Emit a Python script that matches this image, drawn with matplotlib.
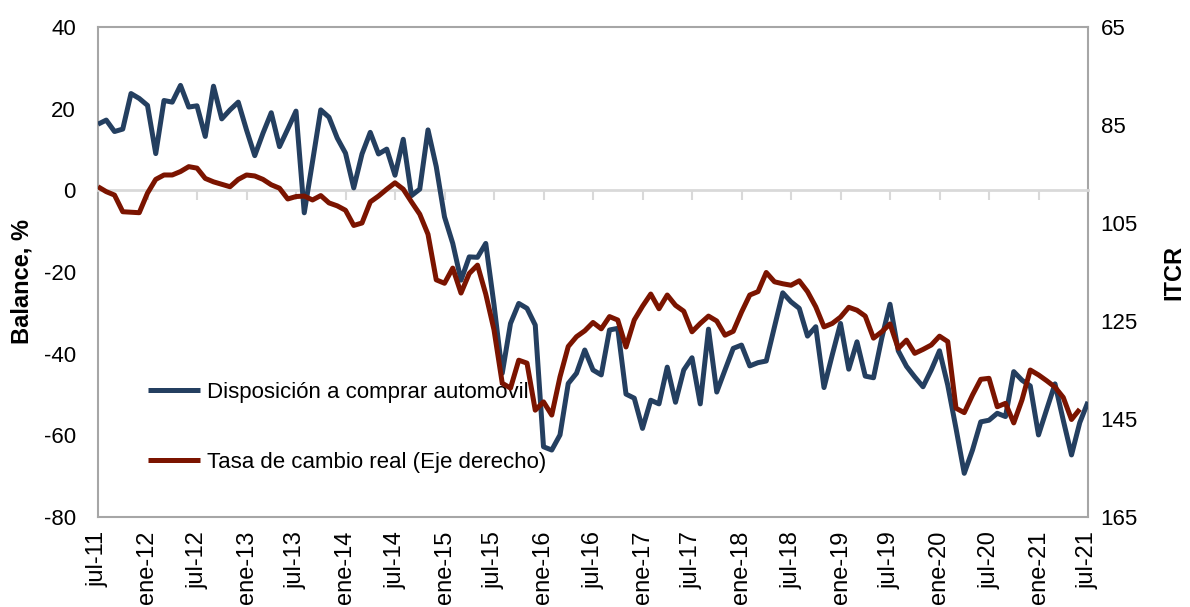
import numpy as np
import matplotlib
matplotlib.use('Agg')
import matplotlib.pyplot as plt

plt.rcParams['font.family'] = ['Liberation Sans', 'DejaVu Sans']
plt.rcParams['axes.unicode_minus'] = False

# Monthly data, jul-2011 .. jul-2021
blue_label = 'Disposición a comprar automóvil'
red_label = 'Tasa de cambio real (Eje derecho)'

disposicion = [
    16.2, 17.2, 14.4, 15.0, 23.7, 22.5, 20.8, 9.0, 22.0, 21.6,
    25.7, 20.4, 20.7, 13.2, 25.5, 17.5, 19.7, 21.6, 14.8, 8.5,
    14.0, 19.0, 10.7, 15.0, 19.4, -5.5, 7.0, 19.7, 17.9, 12.8,
    9.1, 0.6, 8.9, 14.2, 8.9, 10.1, 3.7, 12.5, -1.3, 0.3,
    14.8, 5.8, -6.5, -13.0, -22.0, -16.3, -16.4, -13.0, -28.0, -44.8,
    -32.6, -27.7, -28.9, -33.0, -62.8, -63.6, -59.9, -47.3, -44.8, -39.1,
    -44.0, -45.2, -34.2, -33.8, -49.9, -50.9, -58.3, -51.4, -52.3, -43.3,
    -51.9, -44.0, -41.0, -52.3, -34.0, -49.4, -44.0, -38.7, -37.9, -43.0,
    -42.2, -41.8, -33.4, -25.1, -27.3, -28.9, -35.7, -33.4, -48.3, -40.3,
    -32.6, -43.8, -37.1, -45.5, -45.9, -36.2, -27.9, -39.3, -43.1, -45.7,
    -48.1, -44.0, -39.3, -47.7, -58.3, -69.3, -63.6, -56.7, -56.3, -54.6,
    -55.4, -44.4, -46.5, -47.9, -59.9, -53.6, -47.4, -56.3, -64.8, -56.9,
    -51.8,
]

tcr = [
    97.6, 98.6, 99.3, 102.7, 102.8, 102.9, 98.9, 96.1, 95.2, 95.2,
    94.5, 93.5, 93.8, 95.9, 96.6, 97.1, 97.6, 96.1, 95.2, 95.4,
    96.1, 97.2, 97.9, 100.1, 99.6, 99.5, 100.3, 99.4, 100.9, 101.5,
    102.4, 105.5, 105.0, 100.7, 99.5, 98.1, 96.8, 98.1, 100.7, 103.2,
    107.3, 116.6, 117.3, 114.2, 119.3, 115.3, 113.6, 119.5, 126.8, 137.7,
    138.7, 133.0, 133.6, 143.2, 141.5, 144.2, 136.4, 130.2, 128.2, 127.0,
    125.3, 126.6, 124.1, 124.8, 130.3, 124.8, 122.0, 119.5, 122.5, 119.7,
    121.8, 123.0, 127.2, 125.5, 124.0, 125.0, 127.9, 127.1, 123.2, 119.7,
    119.0, 115.1, 117.0, 117.4, 117.7, 116.8, 119.0, 122.1, 126.2, 125.5,
    124.2, 122.2, 122.8, 124.0, 128.5, 127.2, 125.6, 130.6, 128.9, 131.6,
    130.8, 129.9, 128.1, 129.2, 142.8, 143.7, 140.1, 136.9, 136.7, 142.5,
    141.8, 145.8, 141.1, 135.0, 136.0, 137.2, 138.5, 140.6, 145.1, 143.0,
]

tick_labels = ['jul-11', 'ene-12', 'jul-12', 'ene-13', 'jul-13', 'ene-14', 'jul-14',
               'ene-15', 'jul-15', 'ene-16', 'jul-16', 'ene-17', 'jul-17', 'ene-18',
               'jul-18', 'ene-19', 'jul-19', 'ene-20', 'jul-20', 'ene-21', 'jul-21']

left_ticks = [-80, -60, -40, -20, 0, 20, 40]
right_ticks = [65, 85, 105, 125, 145, 165]

BLUE = '#243F60'
RED = '#7B1400'
FRAME = '#a6a6a6'
ZERO = '#d9d9d9'
FS = 16

x = np.arange(len(disposicion))
x_red = np.arange(len(tcr))
tick_pos = x[::6]

fig = plt.figure(figsize=(11.9, 6.07), dpi=100)
ax = fig.add_axes([98 / 1190, 1 - 517 / 607, 990 / 1190, 490 / 607])
ax.set_xlim(x[0], x[-1])
ax.set_ylim(-80, 40)
ax.set_yticks(left_ticks)
ax.tick_params(axis='y', length=0, pad=16, labelsize=FS)

# zero line acting as category axis with tick marks
ax.spines['bottom'].set_position(('data', 0))
ax.spines['bottom'].set_color(ZERO)
ax.spines['bottom'].set_linewidth(2)
ax.set_xticks(tick_pos)
ax.tick_params(axis='x', direction='out', length=7, width=1.5, color=ZERO,
               labelbottom=False)
for s in ['top', 'left', 'right']:
    ax.spines[s].set_color(FRAME)
    ax.spines[s].set_linewidth(1.5)

sec = ax.secondary_xaxis('bottom')
sec.set_xticks(tick_pos, labels=tick_labels)
sec.tick_params(axis='x', length=0, pad=10, labelsize=17, labelrotation=90)
sec.spines['bottom'].set_color(FRAME)
sec.spines['bottom'].set_linewidth(1.5)

l1, = ax.plot(x, disposicion, color=BLUE, lw=3.6, zorder=3,
              solid_joinstyle='round', solid_capstyle='butt', label=blue_label)

ax2 = ax.twinx()
ax2.set_ylim(165, 65)
ax2.set_yticks(right_ticks)
ax2.tick_params(axis='y', length=0, pad=9, labelsize=FS)
for s in ax2.spines.values():
    s.set_visible(False)
l2, = ax2.plot(x_red, tcr, color=RED, lw=3.6, zorder=3,
               solid_joinstyle='round', solid_capstyle='butt', label=red_label)

leg = ax.legend([l1, l2], [blue_label, red_label], loc='lower left',
                bbox_to_anchor=(50 / 990, 44 / 490), frameon=False, fontsize=FS,
                handlelength=2.35, handletextpad=0.3, labelspacing=2.2,
                borderpad=0, borderaxespad=0)
leg.set_zorder(2)

ax.set_ylabel('Balance, %', fontsize=17, fontweight='bold')
ax.yaxis.set_label_coords(-64 / 990, 0.48)
ax2.set_ylabel('ITCR', fontsize=17, fontweight='bold')
ax2.yaxis.set_label_coords(1064 / 990, 0.50)

fig.savefig('out.png', dpi=100)
